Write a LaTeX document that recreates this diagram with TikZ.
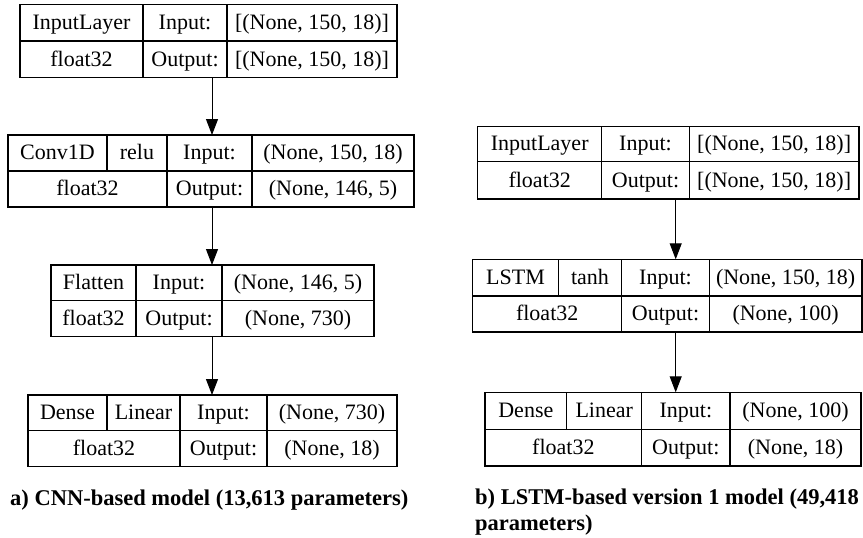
\documentclass[tikz,border=0pt]{standalone}
\usepackage{fontspec}
\setmainfont{Liberation Serif}
\usetikzlibrary{arrows.meta}
\newcommand\mkcell[6]{%
  \node[cell, minimum width={(#4)*1pt-(#2)*1pt}, minimum height={(#5)*1pt-(#3)*1pt}]
    (#1) at ({(#2+#4)/2},{(#3+#5)/2}) {#6};}
\begin{document}
\begin{tikzpicture}[x=1pt,y=-1pt,
  cell/.style={draw=black, line width=1.4pt, inner sep=0pt, outer sep=0pt,
    text height=13.5pt, text depth=0pt,
    font=\fontsize{22}{26}\selectfont},
  conn/.style={line width=1pt, -{Triangle[width=12pt,length=16pt]}},
  captext/.style={font=\fontsize{22.5}{26}\selectfont\bfseries, inner sep=0pt,
    anchor=base west, align=left}]
\useasboundingbox (0,0) rectangle (863,538);

% ---- a) CNN model ----
\mkcell{A1a}{20}{4.5}{143}{41}{InputLayer}
\mkcell{A1b}{143}{4.5}{227}{41}{Input:}
\mkcell{A1c}{227}{4.5}{397}{41}{[(None, 150, 18)]}
\mkcell{A1d}{20}{41}{143}{77.5}{float32}
\mkcell{A1e}{143}{41}{227}{77.5}{Output:}
\mkcell{A1f}{227}{41}{397}{77.5}{[(None, 150, 18)]}

\mkcell{A2a}{8}{135}{107}{171}{Conv1D}
\mkcell{A2b}{107}{135}{167}{171}{relu}
\mkcell{A2c}{167}{135}{252}{171}{Input:}
\mkcell{A2d}{252}{135}{414}{171}{(None, 150, 18)}
\mkcell{A2e}{8}{171}{167}{207}{float32}
\mkcell{A2f}{167}{171}{252}{207}{Output:}
\mkcell{A2g}{252}{171}{414}{207}{(None, 146, 5)}

\mkcell{A3a}{51}{265}{136}{300.7}{Flatten}
\mkcell{A3b}{136}{265}{222}{300.7}{Input:}
\mkcell{A3c}{222}{265}{374}{300.7}{(None, 146, 5)}
\mkcell{A3d}{51}{300.7}{136}{336.7}{float32}
\mkcell{A3e}{136}{300.7}{222}{336.7}{Output:}
\mkcell{A3f}{222}{300.7}{374}{336.7}{(None, 730)}

\mkcell{A4a}{28}{395}{107}{430.7}{Dense}
\mkcell{A4b}{107}{395}{180}{430.7}{Linear}
\mkcell{A4c}{180}{395}{267}{430.7}{Input:}
\mkcell{A4d}{267}{395}{397}{430.7}{(None, 730)}
\mkcell{A4e}{28}{430.7}{180}{466.7}{float32}
\mkcell{A4f}{180}{430.7}{267}{466.7}{Output:}
\mkcell{A4g}{267}{430.7}{397}{466.7}{(None, 18)}

% ---- b) LSTM model ----
\mkcell{B1a}{477.7}{126.7}{601.7}{161.7}{InputLayer}
\mkcell{B1b}{601.7}{126.7}{689.3}{161.7}{Input:}
\mkcell{B1c}{689.3}{126.7}{859}{161.7}{[(None, 150, 18)]}
\mkcell{B1d}{477.7}{161.7}{601.7}{199}{float32}
\mkcell{B1e}{601.7}{161.7}{689.3}{199}{Output:}
\mkcell{B1f}{689.3}{161.7}{859}{199}{[(None, 150, 18)]}

\mkcell{B2a}{472.7}{259.3}{558.3}{296}{LSTM}
\mkcell{B2b}{558.3}{259.3}{621.7}{296}{tanh}
\mkcell{B2c}{621.7}{259.3}{709.3}{296}{Input:}
\mkcell{B2d}{709.3}{259.3}{862}{296}{(None, 150, 18)}
\mkcell{B2e}{472.7}{296}{621.7}{332}{float32}
\mkcell{B2f}{621.7}{296}{709.3}{332}{Output:}
\mkcell{B2g}{709.3}{296}{862}{332}{(None, 100)}

\mkcell{B3a}{485}{392.3}{566.7}{429.3}{Dense}
\mkcell{B3b}{566.7}{392.3}{641.7}{429.3}{Linear}
\mkcell{B3c}{641.7}{392.3}{730}{429.3}{Input:}
\mkcell{B3d}{730}{392.3}{861}{429.3}{(None, 100)}
\mkcell{B3e}{485}{429.3}{641.7}{466}{float32}
\mkcell{B3f}{641.7}{429.3}{730}{466}{Output:}
\mkcell{B3g}{730}{429.3}{861}{466}{(None, 18)}

% ---- connectors ----
\coordinate (colA) at (212,0);
\coordinate (colB) at (675.7,0);
\draw[conn] (A1e.south -| colA) -- (A2c.north -| colA);
\draw[conn] (A2f.south -| colA) -- (A3b.north -| colA);
\draw[conn] (A3e.south -| colA) -- (A4c.north -| colA);
\draw[conn] (B1e.south -| colB) -- (B2c.north -| colB);
\draw[conn] (B2f.south -| colB) -- (B3c.north -| colB);

% ---- captions ----
\node[captext] (capA) at (10,505) {a) CNN-based model (13,613 parameters)};
\node[captext] (capB) at (475,530) {b) LSTM-based version 1 model (49,418\\parameters)};
\end{tikzpicture}
\end{document}
